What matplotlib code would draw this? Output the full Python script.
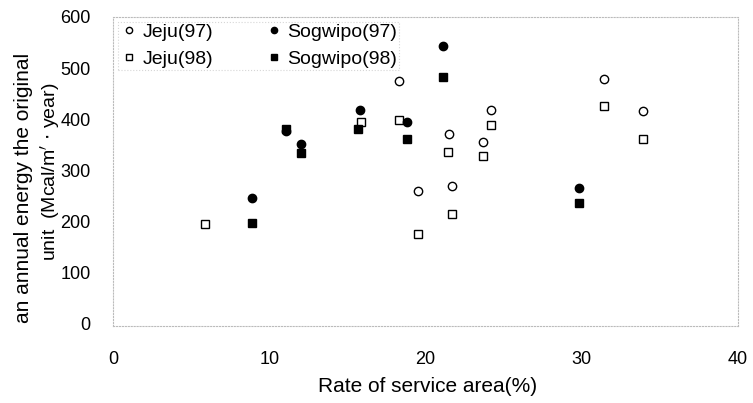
import matplotlib
matplotlib.use("Agg")
import matplotlib.pyplot as plt

plt.rcParams['font.family'] = ['Liberation Sans', 'DejaVu Sans']

# Data
jeju97_x = [18.3, 19.5, 21.5, 21.7, 23.7, 24.2, 31.4, 33.9]
jeju97_y = [475, 259, 371, 269, 355, 418, 478, 416]

jeju98_x = [5.9, 15.9, 18.3, 19.5, 21.45, 21.7, 23.7, 24.2, 31.45, 33.9]
jeju98_y = [196, 395, 399, 176, 336, 214, 329, 389, 425, 362]

sog97_x = [8.9, 11.1, 12.05, 15.8, 18.8, 21.1, 29.8]
sog97_y = [247, 377, 352, 419, 395, 544, 266]

sog98_x = [8.9, 11.1, 12.05, 15.7, 18.8, 21.1, 29.8]
sog98_y = [198, 381, 334, 380, 362, 483, 236]

x_ticks = [0, 10, 20, 30, 40]
y_ticks = [0, 100, 200, 300, 400, 500, 600]

fig = plt.figure(figsize=(7.53, 4.03), dpi=100)
ax = fig.add_axes([0.150, 0.190, 0.830, 0.768])

ms = 6
ax.plot(jeju97_x, jeju97_y, 'o', ls='none', mfc='white', mec='black', mew=1.0, ms=ms, label='Jeju(97)')
ax.plot(jeju98_x, jeju98_y, 's', ls='none', mfc='white', mec='black', mew=1.0, ms=ms, label='Jeju(98)')
ax.plot(sog97_x, sog97_y, 'o', ls='none', mfc='black', mec='black', ms=ms, label='Sogwipo(97)')
ax.plot(sog98_x, sog98_y, 's', ls='none', mfc='black', mec='black', ms=ms, label='Sogwipo(98)')

ax.set_xlim(0, 40)
ax.set_ylim(-5, 600)
ax.set_xticks(x_ticks)
ax.set_yticks(y_ticks)
ax.tick_params(axis='both', length=0, labelsize=13)
ax.tick_params(axis='y', pad=16)
ax.tick_params(axis='x', pad=18)

for s in ax.spines.values():
    s.set_color('#bbbbbb')
    s.set_linestyle(':')
    s.set_linewidth(0.8)

fig.text(428 / 753, 1 - 387 / 403, 'Rate of service area(%)', fontsize=15,
         ha='center', va='center')
fig.text(24 / 753, 1 - 188 / 403, 'an annual energy the original', fontsize=15,
         rotation=90, ha='center', va='center')
fig.text(50 / 753, 1 - 172 / 403, 'unit  (Mcal/m$^{\\prime}$ $\\cdot$ year)', fontsize=14,
         rotation=90, ha='center', va='center')

leg = ax.legend(ncol=2, loc='upper left', bbox_to_anchor=(-0.008, 1.016), fontsize=14,
                markerscale=0.75, handletextpad=0.2, columnspacing=2.6,
                labelspacing=0.45, borderpad=0.1, handlelength=1.0, fancybox=False)
leg.get_frame().set_edgecolor('#cccccc')
leg.get_frame().set_linestyle(':')
leg.get_frame().set_linewidth(0.8)

fig.savefig('out.png', dpi=100)
